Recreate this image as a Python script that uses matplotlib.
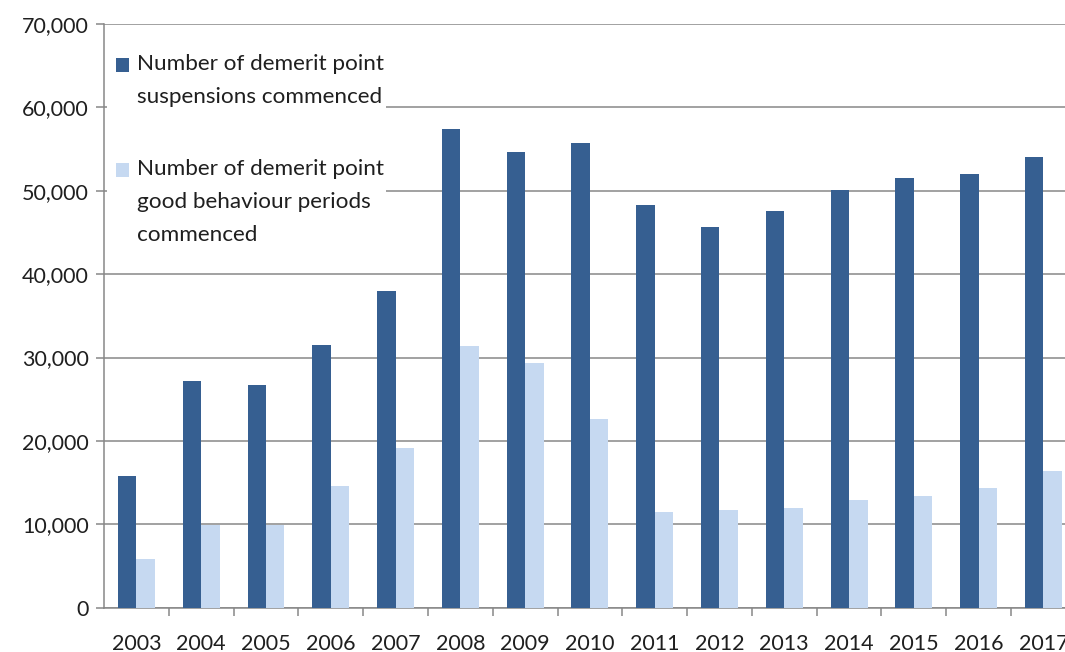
import numpy as np
import matplotlib
matplotlib.use("Agg")
import matplotlib.pyplot as plt
from matplotlib.patches import Rectangle
from matplotlib.ticker import FixedLocator, StrMethodFormatter

plt.rcParams['font.family'] = ['Lato', 'DejaVu Sans']

years = ["2003", "2004", "2005", "2006", "2007", "2008", "2009", "2010",
         "2011", "2012", "2013", "2014", "2015", "2016", "2017"]
suspensions = [15800, 27200, 26700, 31500, 38000, 57400, 54600, 55700,
               48300, 45600, 47600, 50100, 51500, 52000, 54000]
good_behaviour = [5900, 9900, 9900, 14600, 19200, 31400, 29400, 22600,
                  11500, 11700, 12000, 12900, 13400, 14300, 16400]
labels = ["Number of demerit point\nsuspensions commenced",
          "Number of demerit point\ngood behaviour periods\ncommenced"]

DARK = "#365f91"
LIGHT = "#c6d9f1"
GRID = "#878787"
TEXT = "#1f1f1f"

W, H = 1065, 652
fig = plt.figure(figsize=(W / 100, H / 100), dpi=100)
ax = fig.add_axes([104 / W, 1 - 607.7 / H, 1 - 104 / W, (607.7 - 24) / H])

x = np.arange(len(years))
bw = 0.285
ax.bar(x - bw / 2, suspensions, bw, color=DARK, zorder=3, label=labels[0])
ax.bar(x + bw / 2, good_behaviour, bw, color=LIGHT, zorder=3, label=labels[1])

ax.set_xlim(-0.5, 14.333)
ax.set_ylim(0, 70000)
ax.set_yticks(np.arange(0, 70001, 10000))
ax.yaxis.set_major_formatter(StrMethodFormatter("{x:,.0f}"))
ax.set_xticks(x)
ax.set_xticklabels(years)
ax.xaxis.set_minor_locator(FixedLocator(x[1:] - 0.5))

ax.grid(axis="y", color=GRID, linewidth=1.1, zorder=0)
ax.set_axisbelow(True)
for s in ["top", "right"]:
    ax.spines[s].set_visible(False)
for s in ["left", "bottom"]:
    ax.spines[s].set_color(GRID)
    ax.spines[s].set_linewidth(1.1)

ax.tick_params(axis="x", which="major", length=0, pad=19, labelsize=15.5, labelcolor=TEXT)
ax.tick_params(axis="x", which="minor", length=6, width=1.1, color=GRID, direction="out")
ax.tick_params(axis="y", length=6, width=1.1, color=GRID, pad=5, labelsize=15.5, labelcolor=TEXT)


# legend drawn by hand so the swatch sits on the first text line
def px(xp, yp):
    return xp / W, 1 - yp / H


box = Rectangle(px(107, 256), (386 - 107) / W, (256 - 40) / H,
                transform=fig.transFigure, facecolor="white", edgecolor="none", zorder=5)
fig.patches.append(box)
for color, label, ymid in [(DARK, labels[0], 65), (LIGHT, labels[1], 170)]:
    sq = Rectangle(px(116, ymid + 7), 13 / W, 14 / H, transform=fig.transFigure,
                   facecolor=color, edgecolor="none", zorder=6)
    fig.patches.append(sq)
    fig.text(*px(137, ymid - 11), label, ha="left", va="top", fontsize=16.2,
             color=TEXT, linespacing=1.82, zorder=7)

fig.savefig("out.png", dpi=100)
